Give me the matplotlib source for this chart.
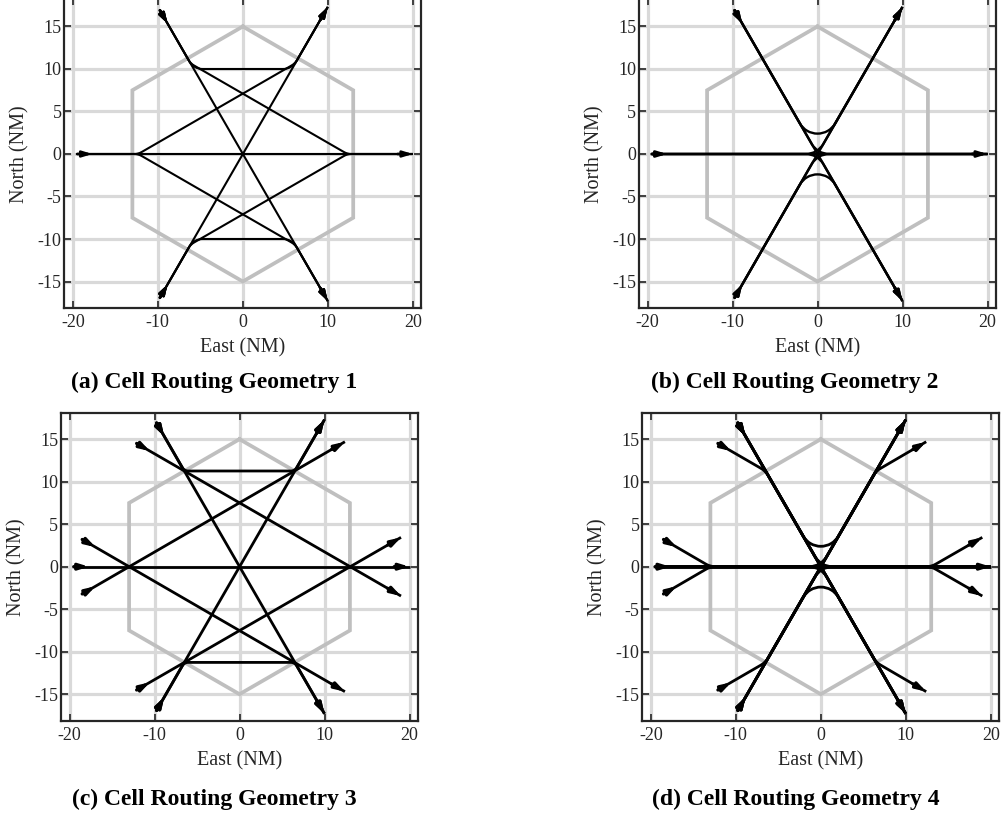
import numpy as np
import matplotlib
matplotlib.use("Agg")
import matplotlib.pyplot as plt
from matplotlib.path import Path
from matplotlib.patches import PathPatch, FancyArrowPatch
from matplotlib.transforms import Affine2D

plt.rcParams["font.family"] = ["Liberation Serif", "DejaVu Serif"]
plt.rcParams["axes.unicode_minus"] = False

# ---------------------------------------------------------------- data (NM)
hex_east = [0.0, 12.99, 12.99, 0.0, -12.99, -12.99, 0.0]
hex_north = [15.0, 7.5, -7.5, -15.0, -7.5, 7.5, 15.0]

x_ticks = [-20, -10, 0, 10, 20]
y_ticks = [-15, -10, -5, 0, 5, 10, 15]

captions = [
    "(a) Cell Routing Geometry 1",
    "(b) Cell Routing Geometry 2",
    "(c) Cell Routing Geometry 3",
    "(d) Cell Routing Geometry 4",
]

# each route: (east waypoints, north waypoints), flown first -> last
g1_routes = [
    ([-19.5, 20.0], [0.0, 0.0]),
    ([-19.5, -12.3, 6.15, 10.0], [0.0, 0.0, 10.65, 17.3]),
    ([-19.5, -12.3, 6.15, 10.0], [0.0, 0.0, -10.65, -17.3]),
    ([-9.75, 10.0], [16.9, -17.3]),
    ([-9.75, -5.77, 5.77, 10.0], [16.9, 10.0, 10.0, 17.3]),
    ([-9.75, -6.15, 12.3, 20.0], [16.9, 10.65, 0.0, 0.0]),
    ([-9.75, 10.0], [-16.9, 17.3]),
    ([-9.75, -5.77, 5.77, 10.0], [-16.9, -10.0, -10.0, -17.3]),
    ([-9.75, -6.15, 12.3, 20.0], [-16.9, -10.65, 0.0, 0.0]),
]
g1_turn_radius = 1.8

g2_routes = [
    ([-19.5, 20.0], [0.0, 0.0]),
    ([-9.75, 10.0], [16.9, -17.3]),
    ([-9.75, 10.0], [-16.9, 17.3]),
    ([-9.75, 0.0, 10.0], [16.9, 0.0, 17.3]),
    ([-9.75, 0.0, 10.0], [-16.9, 0.0, -17.3]),
    ([-19.5, 0.0, 10.0], [0.0, 0.0, 17.3]),
    ([-19.5, 0.0, 10.0], [0.0, 0.0, -17.3]),
    ([-9.75, 0.0, 20.0], [16.9, 0.0, 0.0]),
    ([-9.75, 0.0, 20.0], [-16.9, 0.0, 0.0]),
]
g2_turn_radius = 2.4

g3_routes = [
    ([-19.5, 20.0], [0.0, 0.0]),
    ([-9.75, 10.0], [16.9, -17.3]),
    ([-9.75, 10.0], [-16.9, 17.3]),
    ([-18.5, 12.4], [3.2, -14.7]),
    ([-18.5, 12.4], [-3.2, 14.7]),
    ([-12.1, 19.0], [14.5, -3.45]),
    ([-12.1, 19.0], [-14.5, 3.45]),
    ([-9.75, -6.5, 6.5, 10.0], [16.9, 11.26, 11.26, 17.3]),
    ([-9.75, -6.5, 6.5, 10.0], [-16.9, -11.26, -11.26, -17.3]),
]
g3_turn_radius = 0.8

g4_routes = g2_routes + [
    ([-18.5, -13.0, 20.0], [3.2, 0.0, 0.0]),
    ([-18.5, -13.0, 20.0], [-3.2, 0.0, 0.0]),
    ([-19.5, 13.0, 19.0], [0.0, 0.0, 3.45]),
    ([-19.5, 13.0, 19.0], [0.0, 0.0, -3.45]),
    ([-12.1, -6.5, 10.0], [14.5, 11.26, -17.3]),
    ([-12.1, -6.5, 10.0], [-14.5, -11.26, 17.3]),
    ([-9.75, 6.5, 12.4], [-16.9, 11.26, 14.7]),
    ([-9.75, 6.5, 12.4], [16.9, -11.26, -14.7]),
]
g4_turn_radius = 2.4

panels = [
    (g1_routes, g1_turn_radius, 1.5),
    (g2_routes, g2_turn_radius, 1.7),
    (g3_routes, g3_turn_radius, 2.0),
    (g4_routes, g4_turn_radius, 2.0),
]

# ---------------------------------------------------------------- helpers
def route_path(east, north, radius):
    """Polyline through the waypoints with fly-by circular turns."""
    pts = np.column_stack([east, north]).astype(float)
    verts = [pts[0]]
    codes = [Path.MOVETO]
    for i in range(1, len(pts) - 1):
        p0, p1, p2 = pts[i - 1], pts[i], pts[i + 1]
        d1 = (p1 - p0) / np.linalg.norm(p1 - p0)
        d2 = (p2 - p1) / np.linalg.norm(p2 - p1)
        turn = np.arctan2(d1[0] * d2[1] - d1[1] * d2[0], d1 @ d2)
        if radius <= 0 or abs(turn) < 1e-9:
            verts.append(p1)
            codes.append(Path.LINETO)
            continue
        t = radius * np.tan(abs(turn) / 2)
        a = p1 - d1 * t
        b = p1 + d2 * t
        normal = np.array([-d1[1], d1[0]]) * np.sign(turn)
        c = a + normal * radius
        sweep = np.degrees(abs(turn))
        if turn > 0:
            start = np.degrees(np.arctan2(a[1] - c[1], a[0] - c[0]))
            av = Path.arc(start, start + sweep).vertices
        else:
            start = np.degrees(np.arctan2(b[1] - c[1], b[0] - c[0]))
            av = Path.arc(start, start + sweep).vertices[::-1]
        av = Affine2D().scale(radius).translate(c[0], c[1]).transform(av)
        verts.append(a)
        codes.append(Path.LINETO)
        verts.extend(av[1:])
        codes.extend([Path.CURVE4] * (len(av) - 1))
    verts.append(pts[-1])
    codes.append(Path.LINETO)
    return Path(np.array(verts), codes)


def add_arrow(ax, tail, tip, lw):
    ax.add_patch(FancyArrowPatch(
        tail, tip, arrowstyle="-|>,head_length=0.55,head_width=0.17",
        mutation_scale=10, color="black", lw=lw, shrinkA=0, shrinkB=0,
        zorder=4))


# ---------------------------------------------------------------- figure
W, H = 1001, 822
fig = plt.figure(figsize=(W / 100, H / 100), dpi=100)

# (left, right, top, bottom, pixel row of north = 0)
boxes = [
    (64.3, 421.3, -2.0, 308.3, 154.0),
    (639.0, 996.0, -2.0, 308.3, 154.0),
    (61.0, 418.0, 412.7, 721.0, 566.7),
    (642.3, 999.3, 412.7, 721.0, 566.7),
]
caption_pos = [(214, 382), (795, 382), (214, 799), (796, 799)]

ink = "#262626"
arrow_len = 1.8

for (routes, radius, lw), (l, r, t, b, y0), cap, (cx, cy) in zip(
        panels, boxes, captions, caption_pos):
    ax = fig.add_axes([l / W, 1 - b / H, (r - l) / W, (b - t) / H])
    scale = (r - l) / 42.0
    ax.set_xlim(-21.0, 21.0)
    ax.set_ylim((y0 - b) / scale, (y0 - t) / scale)

    ax.set_xticks(x_ticks)
    ax.set_yticks(y_ticks)
    ax.grid(True, color="#d9d9d9", lw=2.3)
    ax.set_axisbelow(True)
    ax.tick_params(direction="in", length=5, width=1.2, top=True, right=True,
                   labelsize=13, colors=ink)
    ax.tick_params(axis="x", pad=4)
    ax.tick_params(axis="y", pad=2)
    for s in ax.spines.values():
        s.set_color(ink)
        s.set_linewidth(1.6)

    ax.plot(hex_east, hex_north, color="#bfbfbf", lw=2.7, zorder=2,
            solid_joinstyle="miter")

    starts, ends = set(), set()
    for east, north in routes:
        ax.add_patch(PathPatch(route_path(east, north, radius), fill=False,
                               ec="black", lw=lw, zorder=3,
                               joinstyle="round", capstyle="butt"))
        p0 = np.array([east[0], north[0]])
        p1 = np.array([east[1], north[1]])
        d = (p1 - p0) / np.linalg.norm(p1 - p0)
        starts.add((tuple(p0), tuple(d)))
        q1 = np.array([east[-1], north[-1]])
        q0 = np.array([east[-2], north[-2]])
        e = (q1 - q0) / np.linalg.norm(q1 - q0)
        ends.add((tuple(q1), tuple(e)))

    for p, d in starts:
        p, d = np.array(p), np.array(d)
        add_arrow(ax, p, p + arrow_len * d, lw + 0.4)
    for q, e in ends:
        q, e = np.array(q), np.array(e)
        add_arrow(ax, q - arrow_len * e, q, lw + 0.4)

    ax.set_xlabel("East (NM)", fontsize=14.5, color=ink)
    ax.set_ylabel("North (NM)", fontsize=14.5, color=ink)
    ax.xaxis.set_label_coords(0.5, -39.5 / (b - t))
    ax.xaxis.label.set_va("center")
    ax.yaxis.set_label_coords(-44.0 / (r - l), (b - y0) / (b - t))
    ax.yaxis.label.set_va("center")

    fig.text(cx / W, 1 - cy / H, cap, ha="center", va="center",
             fontsize=17, fontweight="bold", color="black")

fig.savefig("out.png", dpi=100)
